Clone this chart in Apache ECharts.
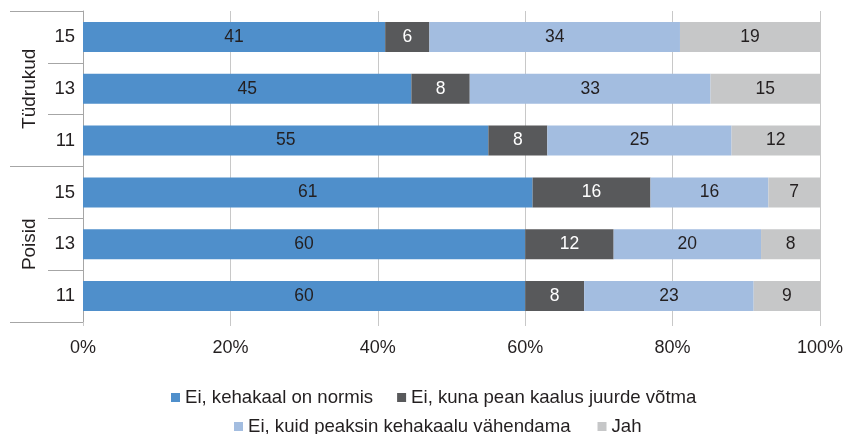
<!DOCTYPE html>
<html>
<head>
<meta charset="utf-8">
<script src="https://cdn.jsdelivr.net/npm/echarts@6/dist/echarts.min.js"></script>
<style>
  html, body { margin: 0; padding: 0; background: #fff; }
  #chart { width: 851px; height: 434px; }
</style>
</head>
<body>
<div id="chart"></div>
<script>
// Row groups and ages (top to bottom)
const groups = ['Tüdrukud', 'Poisid'];
const ages = ['15', '13', '11', '15', '13', '11'];
const rowGroup = [0, 0, 0, 1, 1, 1];

// Answer categories
const seriesNames = [
  'Ei, kehakaal on normis',
  'Ei, kuna pean kaalus juurde võtma',
  'Ei, kuid peaksin kehakaalu vähendama',
  'Jah'
];

// Percentages per row, one array per answer
const normis   = [41, 45, 55, 61, 60, 60];
const juurde   = [6, 8, 8, 16, 12, 8];
const vahenda  = [34, 33, 25, 16, 20, 23];
const jah      = [19, 15, 12, 7, 8, 9];

const xTicks = [0, 20, 40, 60, 80, 100];

const colors = ['#4F8FCB', '#58595B', '#A3BDE0', '#C6C7C8'];
const labelColors = ['#231F20', '#FFFFFF', '#231F20', '#231F20'];
const font = 'Liberation Sans';

const values = [normis, juurde, vahenda, jah];
const rowSums = ages.map((_, i) => values.reduce((s, arr) => s + arr[i], 0));
const rowKeys = ages.map((a, i) => groups[rowGroup[i]] + ' ' + a);

const series = values.map((arr, k) => ({
  name: seriesNames[k],
  type: 'bar',
  stack: 'total',
  barWidth: 30,
  itemStyle: { color: colors[k] },
  label: {
    show: true,
    position: 'inside',
    color: labelColors[k],
    fontFamily: font,
    fontSize: 17.5,
    formatter: p => p.data.raw
  },
  emphasis: { disabled: true },
  data: arr.map((v, i) => ({ value: v / rowSums[i] * 100, raw: v }))
}));

const legendText = { fontSize: 18.6, color: '#231F20', fontFamily: font };

const chart = echarts.init(document.getElementById('chart'));
chart.setOption({
  animation: false,
  textStyle: { fontFamily: font },
  grid: { left: 83, right: 31, top: 11, bottom: 112 },
  legend: [
    {
      data: seriesNames.slice(0, 2),
      left: 166, top: 383,
      icon: 'rect', itemWidth: 9, itemHeight: 9, itemGap: 24,
      textStyle: legendText
    },
    {
      data: seriesNames.slice(2),
      left: 229, top: 412,
      icon: 'rect', itemWidth: 9, itemHeight: 9, itemGap: 27,
      textStyle: legendText
    }
  ],
  xAxis: {
    type: 'value',
    min: xTicks[0], max: xTicks[xTicks.length - 1], interval: 20,
    axisLine: { show: false },
    axisTick: { show: true, length: 4, lineStyle: { color: '#C8C8C8' } },
    splitLine: { show: true, lineStyle: { color: '#C8C8C8', width: 1 } },
    axisLabel: {
      formatter: '{value}%', fontSize: 18, color: '#231F20', margin: 17, fontFamily: font
    }
  },
  yAxis: [
    {
      type: 'category',
      inverse: true,
      data: rowKeys,
      axisLine: { show: true, lineStyle: { color: '#A6A6A6' } },
      axisTick: { show: true, length: 35, lineStyle: { color: '#A6A6A6' } },
      axisLabel: {
        formatter: (v, i) => ages[i],
        fontSize: 18.5, color: '#231F20', margin: 8, fontFamily: font
      }
    },
    {
      type: 'category',
      inverse: true,
      position: 'left',
      offset: 73,
      data: groups,
      axisLine: { show: false },
      axisTick: { show: true, inside: true, length: 73, lineStyle: { color: '#A6A6A6' } },
      axisLabel: {
        inside: true, rotate: 90, margin: 10,
        fontSize: 19, color: '#231F20', fontFamily: font
      }
    }
  ],
  series: series
});
</script>
</body>
</html>
